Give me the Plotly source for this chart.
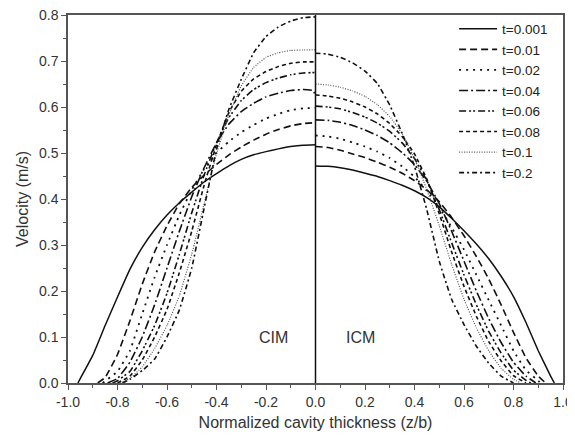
import plotly.graph_objects as go

# ---------------- data ----------------
T_LABELS = ["t=0.001", "t=0.01", "t=0.02", "t=0.04", "t=0.06", "t=0.08", "t=0.1", "t=0.2"]

# Left half (CIM)
XL_0001 = [-0.96, -0.95, -0.9, -0.85, -0.8, -0.75, -0.7, -0.65, -0.6, -0.55, -0.5, -0.45, -0.4, -0.35, -0.3, -0.25, -0.2, -0.15, -0.1, -0.05, 0.0]
YL_0001 = [0.0, 0.01, 0.06, 0.125, 0.187, 0.247, 0.295, 0.333, 0.365, 0.392, 0.415, 0.437, 0.455, 0.472, 0.486, 0.496, 0.503, 0.509, 0.514, 0.517, 0.518]

XL_001 = [-0.88, -0.85, -0.8, -0.75, -0.7, -0.65, -0.6, -0.55, -0.5, -0.45, -0.4, -0.35, -0.3, -0.25, -0.2, -0.15, -0.1, -0.05, 0.0]
YL_001 = [0.0, 0.012, 0.062, 0.135, 0.215, 0.285, 0.342, 0.39, 0.425, 0.452, 0.475, 0.496, 0.513, 0.528, 0.541, 0.551, 0.559, 0.564, 0.566]

XL_002 = [-0.86, -0.8, -0.75, -0.7, -0.65, -0.6, -0.55, -0.5, -0.45, -0.4, -0.35, -0.3, -0.25, -0.2, -0.15, -0.1, -0.05, 0.0]
YL_002 = [0.0, 0.025, 0.07, 0.15, 0.23, 0.3, 0.365, 0.42, 0.465, 0.5, 0.525, 0.545, 0.561, 0.575, 0.585, 0.593, 0.597, 0.598]

XL_004 = [-0.84, -0.8, -0.75, -0.7, -0.65, -0.6, -0.55, -0.5, -0.45, -0.4, -0.35, -0.3, -0.25, -0.2, -0.15, -0.1, -0.05, -0.01, 0.0]
YL_004 = [0.0, 0.01, 0.045, 0.1, 0.17, 0.25, 0.33, 0.405, 0.468, 0.522, 0.563, 0.59, 0.608, 0.622, 0.63, 0.636, 0.638, 0.636, 0.625]

XL_006 = [-0.82, -0.8, -0.75, -0.7, -0.65, -0.6, -0.55, -0.5, -0.45, -0.4, -0.35, -0.3, -0.25, -0.2, -0.15, -0.1, -0.05, 0.0]
YL_006 = [0.0, 0.005, 0.025, 0.07, 0.125, 0.195, 0.28, 0.37, 0.452, 0.522, 0.577, 0.614, 0.638, 0.653, 0.663, 0.67, 0.674, 0.675]

XL_008 = [-0.8, -0.75, -0.7, -0.65, -0.6, -0.55, -0.5, -0.45, -0.4, -0.35, -0.3, -0.25, -0.2, -0.15, -0.1, -0.05, 0.0]
YL_008 = [0.0, 0.015, 0.05, 0.1, 0.16, 0.24, 0.33, 0.43, 0.518, 0.588, 0.634, 0.661, 0.677, 0.688, 0.695, 0.698, 0.698]

XL_01 = [-0.79, -0.75, -0.7, -0.65, -0.6, -0.55, -0.5, -0.45, -0.4, -0.35, -0.3, -0.25, -0.2, -0.15, -0.1, -0.05, 0.0]
YL_01 = [0.0, 0.01, 0.035, 0.075, 0.125, 0.19, 0.28, 0.39, 0.498, 0.583, 0.646, 0.686, 0.708, 0.718, 0.723, 0.724, 0.724]

XL_02 = [-0.78, -0.75, -0.7, -0.65, -0.6, -0.55, -0.5, -0.45, -0.4, -0.35, -0.3, -0.25, -0.2, -0.15, -0.1, -0.05, 0.0]
YL_02 = [0.0, 0.008, 0.027, 0.052, 0.1, 0.159, 0.25, 0.38, 0.508, 0.595, 0.66, 0.718, 0.753, 0.774, 0.787, 0.794, 0.796]

# Right half (ICM)
XR_0001 = [0.0, 0.05, 0.1, 0.15, 0.2, 0.25, 0.3, 0.35, 0.4, 0.45, 0.5, 0.55, 0.6, 0.65, 0.7, 0.75, 0.8, 0.85, 0.9, 0.95, 0.965]
YR_0001 = [0.472, 0.471, 0.468, 0.463, 0.456, 0.449, 0.44, 0.43, 0.418, 0.403, 0.383, 0.358, 0.331, 0.302, 0.27, 0.232, 0.188, 0.132, 0.07, 0.015, 0.0]

XR_001 = [0.0, 0.05, 0.1, 0.15, 0.2, 0.25, 0.3, 0.35, 0.4, 0.45, 0.5, 0.55, 0.6, 0.65, 0.7, 0.75, 0.8, 0.85, 0.9, 0.93]
YR_001 = [0.514, 0.512, 0.506, 0.498, 0.49, 0.48, 0.469, 0.456, 0.44, 0.42, 0.394, 0.36, 0.32, 0.275, 0.226, 0.17, 0.11, 0.055, 0.015, 0.0]

XR_002 = [0.0, 0.05, 0.1, 0.15, 0.2, 0.25, 0.3, 0.35, 0.4, 0.45, 0.5, 0.55, 0.6, 0.65, 0.7, 0.75, 0.8, 0.85, 0.9, 0.91]
YR_002 = [0.538, 0.536, 0.531, 0.523, 0.514, 0.503, 0.489, 0.471, 0.448, 0.418, 0.382, 0.338, 0.29, 0.235, 0.18, 0.125, 0.07, 0.028, 0.005, 0.0]

XR_004 = [0.0, 0.05, 0.1, 0.15, 0.2, 0.25, 0.3, 0.35, 0.4, 0.45, 0.5, 0.55, 0.6, 0.65, 0.7, 0.75, 0.8, 0.85, 0.89]
YR_004 = [0.572, 0.571, 0.567, 0.56, 0.55, 0.538, 0.522, 0.501, 0.475, 0.438, 0.39, 0.33, 0.265, 0.2, 0.14, 0.088, 0.045, 0.015, 0.0]

XR_006 = [0.0, 0.05, 0.1, 0.15, 0.2, 0.25, 0.3, 0.35, 0.4, 0.45, 0.5, 0.55, 0.6, 0.65, 0.7, 0.75, 0.8, 0.85, 0.87]
YR_006 = [0.602, 0.6, 0.596, 0.588, 0.578, 0.565, 0.547, 0.522, 0.488, 0.44, 0.377, 0.305, 0.235, 0.17, 0.112, 0.065, 0.028, 0.006, 0.0]

XR_008 = [0.0, 0.05, 0.1, 0.15, 0.2, 0.25, 0.3, 0.35, 0.4, 0.45, 0.5, 0.55, 0.6, 0.65, 0.7, 0.75, 0.8, 0.85]
YR_008 = [0.626, 0.624, 0.619, 0.611, 0.6, 0.585, 0.564, 0.536, 0.498, 0.443, 0.368, 0.285, 0.21, 0.145, 0.09, 0.048, 0.016, 0.0]

XR_01 = [0.0, 0.05, 0.1, 0.15, 0.2, 0.25, 0.3, 0.35, 0.4, 0.45, 0.5, 0.55, 0.6, 0.65, 0.7, 0.75, 0.8, 0.83]
YR_01 = [0.65, 0.648, 0.643, 0.635, 0.623, 0.605, 0.579, 0.542, 0.488, 0.42, 0.342, 0.258, 0.182, 0.12, 0.07, 0.032, 0.008, 0.0]

XR_02 = [0.0, 0.05, 0.1, 0.15, 0.2, 0.25, 0.3, 0.35, 0.4, 0.45, 0.5, 0.55, 0.6, 0.65, 0.7, 0.75, 0.8]
YR_02 = [0.717, 0.715, 0.708, 0.696, 0.678, 0.651, 0.604, 0.543, 0.471, 0.376, 0.265, 0.182, 0.127, 0.08, 0.043, 0.015, 0.0]

LEFT = [(XL_0001, YL_0001), (XL_001, YL_001), (XL_002, YL_002), (XL_004, YL_004),
        (XL_006, YL_006), (XL_008, YL_008), (XL_01, YL_01), (XL_02, YL_02)]
RIGHT = [(XR_0001, YR_0001), (XR_001, YR_001), (XR_002, YR_002), (XR_004, YR_004),
         (XR_006, YR_006), (XR_008, YR_008), (XR_01, YR_01), (XR_02, YR_02)]

X_TICKS = [-1.0, -0.8, -0.6, -0.4, -0.2, 0.0, 0.2, 0.4, 0.6, 0.8, 1.0]
Y_TICKS = [0.0, 0.1, 0.2, 0.3, 0.4, 0.5, 0.6, 0.7, 0.8]

# ---------------- styles ----------------
DASHES = ["solid", "7px,4px", "2px,5px", "9px,3px,2px,3px", "7px,3px,2px,2px,2px,3px",
          "4px,3px", "1px,1.5px", "5px,3px,2px,3px"]
WIDTHS = [1.5, 1.6, 1.8, 1.6, 1.6, 1.6, 1.2, 1.6]
COLORS = ["#111", "#111", "#111", "#111", "#111", "#111", "#555", "#111"]

fig = go.Figure()
for i, lab in enumerate(T_LABELS):
    lx, ly = LEFT[i]
    rx, ry = RIGHT[i]
    line = dict(color=COLORS[i], width=WIDTHS[i], dash=DASHES[i], shape="spline", smoothing=0.3)
    fig.add_trace(go.Scatter(x=lx, y=ly, mode="lines", name=lab, legendgroup=lab,
                             line=line, showlegend=True))
    fig.add_trace(go.Scatter(x=rx, y=ry, mode="lines", name=lab, legendgroup=lab,
                             line=line, showlegend=False))

# centre divider
fig.add_shape(type="line", x0=0, x1=0, y0=0, y1=0.8, xref="x", yref="y",
              line=dict(color="#111", width=1.5))

fig.add_annotation(x=-0.17, y=0.1, text="CIM", showarrow=False, xref="x", yref="y",
                   font=dict(size=16, color="#333"))
fig.add_annotation(x=0.18, y=0.1, text="ICM", showarrow=False, xref="x", yref="y",
                   font=dict(size=16, color="#333"))

axis_common = dict(showgrid=False, zeroline=False, showline=True, linecolor="#555",
                   linewidth=1.5, mirror=True, ticks="outside", ticklen=5, tickwidth=1.2,
                   tickcolor="#555", tickfont=dict(size=14, color="#333"),
                   ticklabeloverflow="allow")
fig.update_xaxes(range=[-1.0, 1.0], tickvals=X_TICKS, ticktext=[f"{v:.1f}" for v in X_TICKS],
                 title=dict(text="Normalized cavity thickness (z/b)", font=dict(size=16, color="#333"), standoff=8),
                 minor=dict(dtick=0.1, ticks="outside", ticklen=3, tickcolor="#555"),
                 **axis_common)
fig.update_yaxes(range=[0.0, 0.8], tickvals=Y_TICKS, ticktext=[f"{v:.1f}" for v in Y_TICKS],
                 title=dict(text="Velocity (m/s)", font=dict(size=16, color="#333"), standoff=6),
                 minor=dict(dtick=0.05, ticks="outside", ticklen=3, tickcolor="#555"),
                 **axis_common)

fig.update_layout(
    width=567, height=436,
    margin=dict(l=60, r=12, t=7, b=61, autoexpand=False),
    paper_bgcolor="white", plot_bgcolor="white",
    font=dict(family="Liberation Sans, Arial, sans-serif", color="#333"),
    showlegend=True,
    legend=dict(x=0.78, y=1.004, xanchor="left", yanchor="top", bgcolor="rgba(0,0,0,0)",
                font=dict(size=13.5, color="#222"), tracegroupgap=0, itemwidth=38),
)

fig.write_html("out.html")
